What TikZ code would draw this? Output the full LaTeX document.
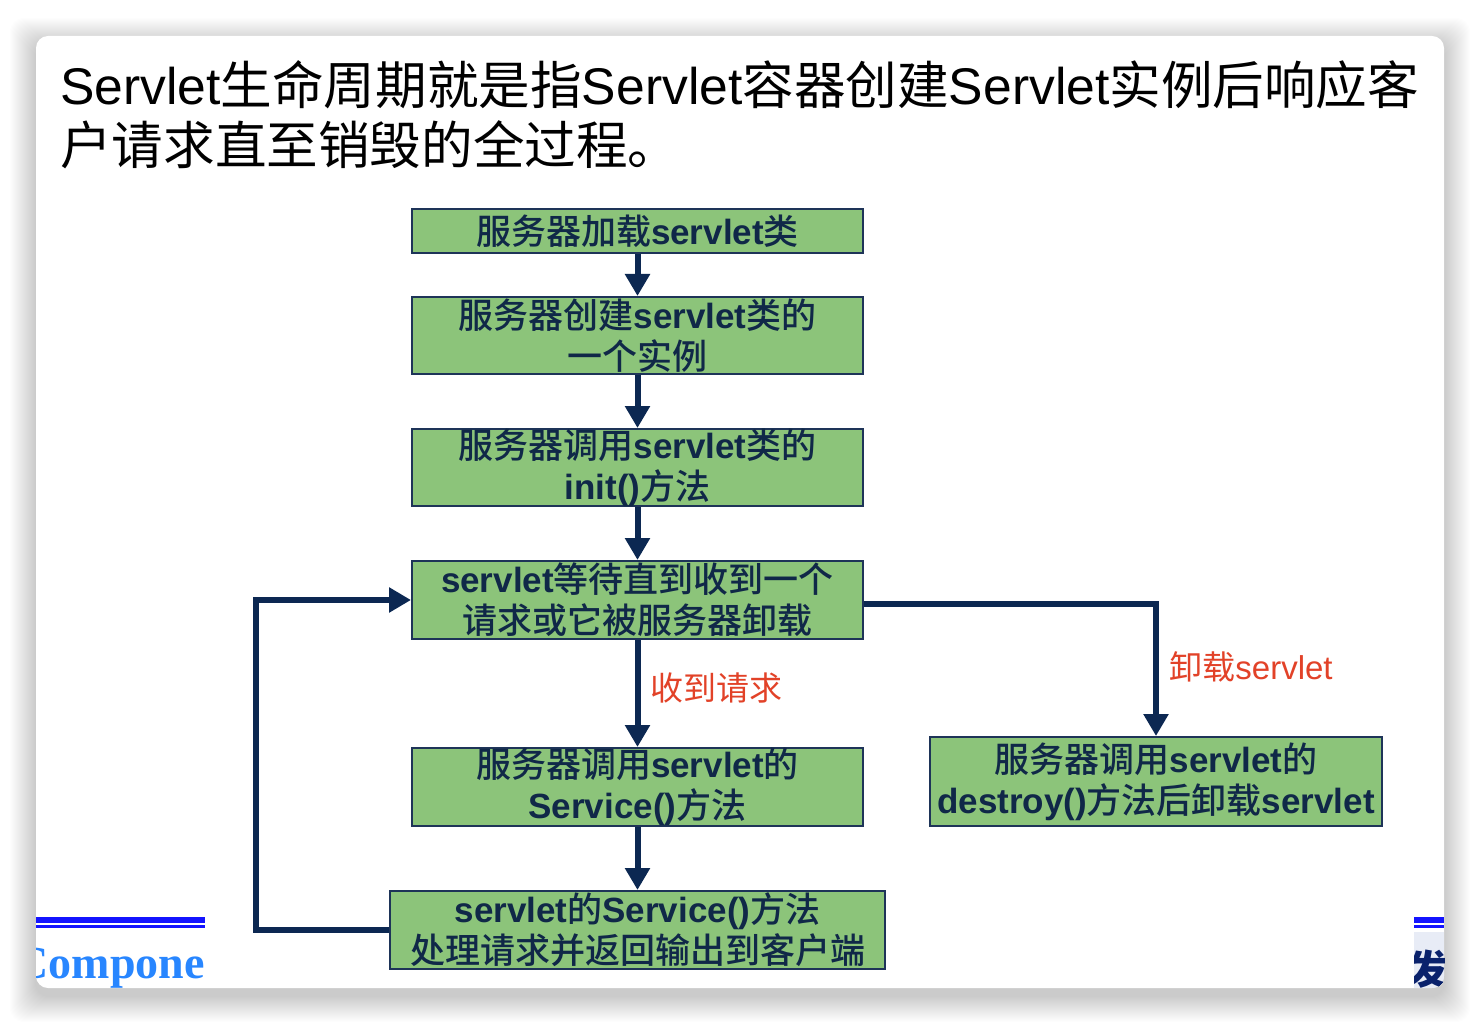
\documentclass[tikz,border=0pt]{standalone}
\usepackage{fontspec}
\setmainfont{Liberation Sans}
\newfontfamily\cjk{Noto Sans CJK SC}
\newfontfamily\cjkm{Noto Sans CJK SC Medium}
\newfontfamily\tms{Liberation Serif}
\newcommand{\C}[1]{{\cjk #1}}
\newcommand{\M}[1]{{\cjkm\mdseries #1}}
\usetikzlibrary{arrows.meta}
\definecolor{boxgreen}{RGB}{140,196,122}
\definecolor{navy}{RGB}{12,40,82}
\definecolor{boxline}{RGB}{30,52,88}
\definecolor{txtnavy}{RGB}{16,40,72}
\definecolor{lblred}{RGB}{226,66,40}
\definecolor{linkblue}{RGB}{40,134,255}
\definecolor{rulblue}{RGB}{20,20,255}
\definecolor{iconbg}{RGB}{232,236,246}
\tikzset{
  flowbox/.style={draw=boxline, line width=2pt, fill=boxgreen, inner sep=0pt},
  boxtext/.style={text=txtnavy, align=center, inner sep=0pt,
    font=\fontsize{35}{41}\selectfont\bfseries},
  arr/.style={draw=navy, line width=6pt, -{Triangle[width=24pt,length=22pt]}},
  redlbl/.style={text=lblred, inner sep=0pt, font=\fontsize{33}{40}\selectfont},
  titletext/.style={anchor=base west, inner sep=0pt, text=black,
    font=\fontsize{51.6}{60}\selectfont},
}
\begin{document}
\begin{tikzpicture}[x=1pt,y=-1pt]
\useasboundingbox (0,0) rectangle (1480,1024);
\fill[white] (0,0) rectangle (1480,1024);
% shadow
\foreach \i in {1,...,26}{
  \fill[black, opacity=0.008, rounded corners=14]
    (36-\i,36-\i+8) rectangle (1444+\i,988+\i+8);
}
\fill[white, rounded corners=12] (36,36) rectangle (1444,988);

% title
\node[titletext] (t1) at (60,105) {Servlet\C{生命周期就是指}Servlet\C{容器创建}Servlet\C{实例后响应客}};
\node[titletext] (t2) at (60,165) {\C{户请求直至销毁的全过程。}};

% boxes
\node[flowbox, minimum width=451pt, minimum height=44pt] (b1) at (637.5,231) {};
\node[boxtext] at (b1) {\M{服务器加载}servlet\M{类}};
\node[flowbox, minimum width=451pt, minimum height=77pt] (b2) at (637.5,335.5) {};
\node[boxtext] at (b2) {\M{服务器创建}servlet\M{类的}\\\M{一个实例}};
\node[flowbox, minimum width=451pt, minimum height=77pt] (b3) at (637.5,467.5) {};
\node[boxtext] at (b3) {\M{服务器调用}servlet\M{类的}\\init()\M{方法}};
\node[flowbox, minimum width=451pt, minimum height=78pt] (b4) at (637.5,600) {};
\node[boxtext] at (b4) {servlet\M{等待直到收到一个}\\\M{请求或它被服务器卸载}};
\node[flowbox, minimum width=451pt, minimum height=78pt] (b5) at (637.5,787) {};
\node[boxtext] at (b5) {\M{服务器调用}servlet\M{的}\\Service()\M{方法}};
\node[flowbox, minimum width=495pt, minimum height=78pt] (b6) at (637.5,930) {};
\node[boxtext] at (b6) {servlet\M{的}Service()\M{方法}\\\M{处理请求并返回输出到客户端}};
\node[flowbox, minimum width=452pt, minimum height=89pt] (b7) at (1156,781.5) {};
\node[boxtext] at (b7) {\M{服务器调用}servlet\M{的}\\destroy()\M{方法后卸载}servlet};

% connectors
\draw[arr] (b1.south) -- (b2.north);
\draw[arr] (b2.south) -- (b3.north);
\draw[arr] (b3.south) -- (b4.north);
\draw[arr] (b4.south) -- (b5.north);
\draw[arr] (b5.south) -- (b6.north);
\draw[arr] (b6.west) -- ++(-133,0) |- (b4.west);
\draw[arr] ([yshift=-4pt]b4.east) -| (b7.north);

% labels
\node[redlbl] (l1) at (716,688) {\C{收到请求}};
\node[redlbl] (l2) at (1251,667) {\C{卸载}servlet};

% footer bits clipped to the card
\begin{scope}
\clip[rounded corners=12] (36,36) rectangle (1444,988);
\draw[rulblue, line width=6pt] (36,919.5) -- (205,919.5);
\draw[rulblue, line width=3pt] (36,926) -- (205,926);
\node[anchor=base east, inner sep=0pt, text=linkblue,
  font=\fontsize{46}{50}\selectfont\tms\bfseries] (cmp) at (205,978) {Compone};
\draw[rulblue, line width=6pt] (1414,919.5) -- (1444,919.5);
\draw[rulblue, line width=3pt] (1414,926) -- (1444,926);
\fill[iconbg] (1414,932) rectangle (1444,988);
\begin{scope}
\clip (1414,932) rectangle (1444,988);
\node[anchor=base west, inner sep=0pt, text=navy!85!blue,
  font=\fontsize{40}{44}\selectfont\cjk\bfseries] (ic) at (1408,984) {发};
\end{scope}
\end{scope}
\end{tikzpicture}
\end{document}
